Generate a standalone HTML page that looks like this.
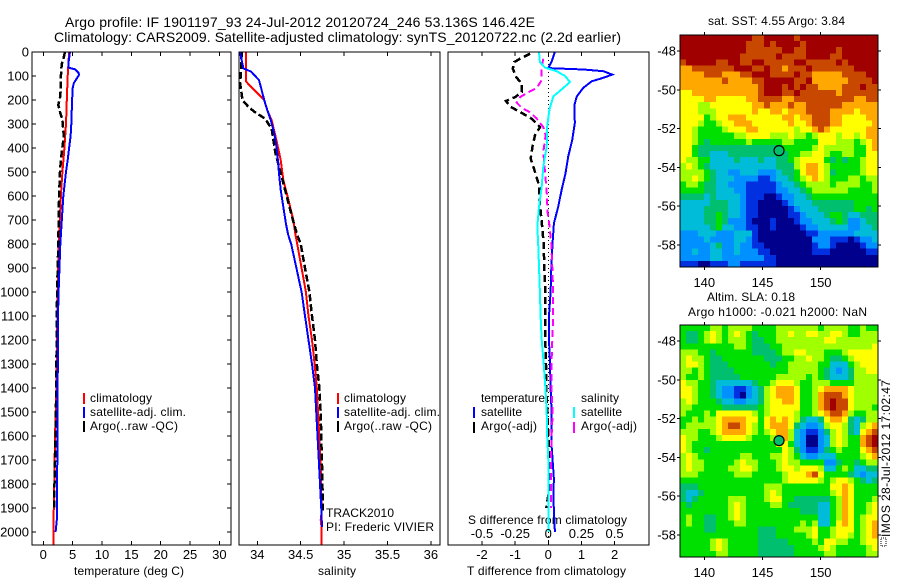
<!DOCTYPE html>
<html>
<head>
<meta charset="utf-8">
<title>Argo profile</title>
<style>
html,body{margin:0;padding:0;background:#fff;width:900px;height:580px;overflow:hidden}
svg{display:block}
text{font-family:"Liberation Sans",Arial,sans-serif;fill:#000}
</style>
</head>
<body>
<svg id="chart" xmlns="http://www.w3.org/2000/svg" width="900" height="580" viewBox="0 0 900 580">
<text x="65" y="27" font-size="14" textLength="470">Argo profile: IF 1901197_93 24-Jul-2012 20120724_246 53.136S 146.42E</text>
<text x="54" y="42" font-size="14" textLength="567">Climatology: CARS2009. Satellite-adjusted climatology: synTS_20120722.nc (2.2d earlier)</text>
<text x="74" y="575" font-size="12" textLength="110">temperature (deg C)</text>
<text x="318" y="575" font-size="12" textLength="38">salinity</text>
<text x="467" y="575" font-size="12" textLength="159">T difference from climatology</text>
<text x="468" y="524" font-size="12" textLength="159">S difference from climatology</text>
<g>
<rect x="83" y="393" width="2" height="11" fill="#ff0000"/>
<text x="90" y="402" font-size="12" textLength="62">climatology</text>
<rect x="83" y="407" width="2" height="11" fill="#0000ff"/>
<text x="90" y="416" font-size="12" textLength="96">satellite-adj. clim.</text>
<rect x="83" y="421" width="2" height="11" fill="#000"/>
<text x="90" y="430" font-size="12" textLength="88">Argo(..raw -QC)</text>
</g>
<g>
<rect x="337" y="393" width="2" height="11" fill="#ff0000"/>
<text x="344" y="402" font-size="12" textLength="62">climatology</text>
<rect x="337" y="407" width="2" height="11" fill="#0000ff"/>
<text x="344" y="416" font-size="12" textLength="96">satellite-adj. clim.</text>
<rect x="337" y="421" width="2" height="11" fill="#000"/>
<text x="344" y="430" font-size="12" textLength="88">Argo(..raw -QC)</text>
</g>
<text x="326" y="517" font-size="12" textLength="68">TRACK2010</text>
<text x="326" y="531" font-size="12" textLength="108">PI: Frederic VIVIER</text>
<g>
<text x="481" y="402" font-size="12" textLength="64">temperature</text>
<text x="581" y="402" font-size="12" textLength="38">salinity</text>
<rect x="473" y="407" width="2" height="11" fill="#0000ff"/>
<text x="481" y="416" font-size="12" textLength="41">satellite</text>
<rect x="473" y="422" width="2" height="11" fill="#000"/>
<text x="481" y="430" font-size="12" textLength="56">Argo(-adj)</text>
<rect x="573" y="407" width="2" height="11" fill="#00ffff"/>
<text x="581" y="416" font-size="12" textLength="41">satellite</text>
<rect x="573" y="422" width="2" height="11" fill="#ff00ff"/>
<text x="581" y="430" font-size="12" textLength="56">Argo(-adj)</text>
</g>
<text x="708" y="25" font-size="12" textLength="137">sat. SST: 4.55 Argo: 3.84</text>
<text x="707" y="301" font-size="12" textLength="88">Altim. SLA: 0.18</text>
<text x="688" y="316" font-size="12" textLength="179">Argo h1000: -0.021 h2000: NaN</text>
<rect x="881" y="538" width="5" height="8" fill="none" stroke="#000" stroke-width="1" stroke-dasharray="1 1" shape-rendering="crispEdges"/>
<text transform="translate(890,537) rotate(-90)" font-size="12" textLength="157">IMOS 28-Jul-2012 17:02:47</text>
</svg>
<script>
/* ---------- temperature panel ---------- */
const tempClimDepth=[0,100,200,300,400,500,600,800,1000,1200,1400,1600,1800,2000,2054];
const tempClimValues=[4.4,4.15,4.0,3.87,3.6,3.25,3.0,2.6,2.45,2.35,2.25,2.0,1.87,1.7,1.7];
const tempSatDepth=[0,50,65,72,85,95,110,130,150,200,300,350,400,450,500,600,800,1000,1100,1400,1650,1950,2000];
const tempSatValues=[4.55,4.26,4.26,5.4,5.96,6.1,5.7,5.2,5.0,4.9,4.77,4.65,4.4,4.15,3.87,3.4,2.9,2.6,2.5,2.45,2.4,2.3,2.1];
const tempArgoDepth=[0,30,50,100,150,190,220,250,280,350,400,450,500,600,800,1000,1400,1600,1800,1900];
const tempArgoValues=[3.7,3.4,3.13,3.0,3.0,2.85,2.55,2.85,3.24,3.5,3.24,3.0,2.85,2.7,2.55,2.35,2.2,2.1,1.9,1.85];
/* ---------- salinity panel ---------- */
const salClimDepth=[0,122,139,167,201,243,285,367,450,533,617,700,762,800,900,1000,1100,1200,1300,1400,1506,1645,1783,1922,1950,1980,2054];
const salClimValues=[33.87,33.87,33.91,33.99,34.08,34.115,34.166,34.22,34.27,34.3,34.36,34.415,34.44,34.46,34.51,34.56,34.59,34.63,34.66,34.685,34.7,34.72,34.735,34.74,34.73,34.74,34.74];
const salSatDepth=[0,68,82,117,158,200,242,283,325,367,422,506,575,645,714,762,800,900,1000,1100,1200,1300,1400,1506,1645,1783,1922,1980];
const salSatValues=[33.8,33.84,33.93,34.02,34.05,34.08,34.115,34.154,34.185,34.21,34.23,34.25,34.27,34.3,34.33,34.356,34.39,34.45,34.51,34.55,34.59,34.63,34.665,34.68,34.7,34.72,34.74,34.745];
const salArgoDepth=[0,100,125,150,201,229,250,278,320,367,422,478,533,617,700,762,800,900,1000,1100,1200,1300,1400,1506,1645,1783,1922];
const salArgoValues=[33.82,33.81,33.8,33.81,33.83,33.9,33.97,34.09,34.166,34.185,34.21,34.25,34.29,34.35,34.41,34.46,34.5,34.55,34.6,34.63,34.665,34.685,34.715,34.73,34.74,34.75,34.755];
/* ---------- difference panel ---------- */
const dTSatDepth=[0,40,67,73,80,94,108,122,150,185,219,297,367,436,506,575,645,714,800,900,1000,1100,1200,1300,1400,1500,1640,1700,1780,1850,2000];
const dTSatValues=[0.2,0.1,0,1.06,1.66,1.93,1.65,1.31,1.05,0.86,0.79,0.8,0.72,0.6,0.52,0.4,0.3,0.17,0.127,0.09,0.07,0.02,0.02,0.05,0.07,0.1,0.1,0.13,0.17,0.15,0.2];
const dTArgoDepth=[7,28,42,69,104,132,167,188,204,229,250,278,313,347,389,444,500,556,639,708,800,900,1000,1200,1300,1400,1600,1700,1800,1900];
const dTArgoValues=[-0.55,-0.85,-1.03,-1.07,-0.97,-0.8,-0.8,-1,-1.28,-1.13,-0.85,-0.5,-0.25,-0.4,-0.47,-0.53,-0.4,-0.28,-0.25,-0.2,-0.14,-0.12,-0.09,-0.09,-0.07,-0.06,0,0.05,0.05,-0.06];
const dSSatDepth=[0,42,65,80,100,125,150,185,240,310,394,478,561,645,728,800,1000,1100,1200,1300,1400,1500,1600,1700,1800,2000];
const dSSatValues=[-0.07,-0.063,-0.025,0.063,0.126,0.164,0.113,0.038,0.008,-0.008,-0.012,-0.038,-0.05,-0.07,-0.083,-0.076,-0.063,-0.058,-0.05,-0.035,-0.022,-0.012,-0.008,0,0,0];
const dSArgoDepth=[28,62,117,150,167,188,211,233,253,278,313,347,417,500,583,667,722,800,900,1000,1100,1200,1300,1400,1500,1600,1700,1800,1900];
const dSArgoValues=[-0.038,-0.05,-0.05,-0.087,-0.15,-0.213,-0.238,-0.2,-0.133,-0.087,-0.038,-0.02,-0.038,-0.025,-0.012,-0.005,0.008,0.023,0.03,0.037,0.037,0.03,0.024,0.023,0.033,0.025,0.02,0.02,0.02];
/* ---------- tick labels ---------- */
const depthTicks=[0,100,200,300,400,500,600,700,800,900,1000,1100,1200,1300,1400,1500,1600,1700,1800,1900,2000];
const tempTicks=[0,5,10,15,20,25,30];
const salTicks=[34,34.5,35,35.5,36];
const dTTicks=[-2,-1,0,1,2];
const dSTicks=[-0.5,-0.25,0,0.25,0.5];
const lonTicks=[140,145,150];
const latTicks=[-48,-50,-52,-54,-56,-58];
const argoLon=146.42;
const argoLat=-53.136;
/* ---------- SST map colour levels (0 coldest .. 10 warmest) ---------- */
const sstLevels=[
[10,10,10,10,10,10,10,10,10,10,10,10,9,9,10,10,10,10,10,9,10,10,10,10,10,10,10,10,10,10,10,10,10],
[10,10,10,10,10,10,10,10,10,10,10,9,9,9,10,9,10,10,10,10,9,10,10,10,10,10,10,10,10,10,10,10,10],
[10,10,10,10,10,10,10,10,10,10,10,9,9,9,9,9,9,10,10,9,9,10,10,10,10,10,9,10,10,10,10,10,10],
[10,10,10,10,10,10,10,10,10,10,9,9,9,9,9,9,10,9,9,9,9,10,10,10,10,9,9,10,10,10,10,10,10],
[9,10,10,10,10,10,9,9,10,10,9,9,10,10,9,9,9,9,9,10,10,9,9,9,9,9,10,9,10,10,10,10,10],
[8,8,9,9,9,9,9,9,9,10,10,10,9,9,10,9,9,8,9,9,9,10,9,9,9,9,9,9,9,10,10,10,10],
[8,8,8,8,9,9,9,8,8,8,9,9,10,10,10,9,9,9,9,10,9,9,8,8,8,8,8,9,9,9,9,10,10],
[8,8,8,8,8,8,8,9,8,8,8,8,9,9,10,10,10,10,10,9,9,10,8,8,8,8,8,8,9,9,9,9,10],
[8,8,8,8,8,8,8,8,8,8,8,8,8,9,10,10,10,9,10,9,10,9,9,8,8,8,8,9,9,9,10,9,9],
[7,7,8,8,8,8,8,8,8,8,8,8,8,9,10,10,10,9,9,10,9,9,9,9,9,9,8,9,9,9,9,9,9],
[7,7,7,7,8,8,7,7,7,7,7,8,8,9,9,9,9,8,8,9,9,9,9,9,9,9,9,9,9,8,8,9,9],
[7,7,7,6,6,7,7,7,7,7,7,7,8,8,9,8,8,8,9,8,8,9,9,9,9,9,9,8,8,8,8,8,8],
[7,7,7,6,6,6,7,7,7,7,7,7,8,7,7,8,8,7,8,8,8,9,9,9,9,8,8,8,8,7,8,8,8],
[7,7,7,7,5,6,7,7,8,8,8,7,7,7,7,7,7,8,8,7,8,8,9,9,9,8,8,7,7,7,7,8,8],
[7,7,7,6,5,5,6,7,7,8,8,8,7,7,7,7,7,7,8,7,7,8,9,9,9,8,8,7,7,7,7,7,8],
[7,7,6,5,5,5,5,6,7,7,7,8,8,7,7,7,7,7,7,6,7,7,8,9,8,7,7,7,7,7,7,8,8],
[7,7,6,5,5,5,5,5,5,6,6,7,7,7,7,6,6,6,7,6,6,5,6,7,7,7,6,7,7,6,7,8,8],
[7,7,6,5,4,5,5,5,5,5,5,6,5,5,5,5,5,6,6,5,5,5,5,7,7,7,6,6,6,5,6,7,8],
[7,7,5,4,4,4,4,4,4,4,4,4,4,4,4,4,4,5,5,5,5,5,6,7,6,6,6,6,6,5,5,7,8],
[7,7,5,4,4,3,3,3,4,4,4,4,4,4,4,4,4,4,5,5,6,6,7,7,6,5,5,6,6,5,5,7,7],
[7,6,6,5,5,3,3,3,3,4,3,3,3,4,3,3,4,4,5,6,7,7,7,7,5,4,5,4,5,5,6,7,7],
[6,7,6,5,4,3,3,3,3,3,3,3,3,3,3,3,4,4,4,6,7,8,8,7,6,5,5,5,5,5,6,7,7],
[6,6,6,6,5,4,3,3,2,2,3,3,3,2,2,2,3,4,4,5,7,8,8,7,6,4,5,5,5,5,6,7,7],
[6,6,7,6,5,4,3,3,3,2,2,2,2,1,1,2,3,3,4,5,6,7,8,7,6,5,5,5,6,6,5,6,6],
[5,6,6,5,4,4,3,3,2,2,2,1,1,1,1,1,2,3,3,4,5,6,6,6,6,5,6,6,6,6,5,5,6],
[5,5,5,5,4,4,3,3,3,2,2,1,1,1,1,1,2,2,3,3,4,5,6,6,6,6,6,6,5,5,5,5,6],
[4,4,4,4,3,4,3,3,3,3,2,1,1,1,0,0,1,2,2,3,3,4,5,5,5,5,5,5,5,5,5,5,5],
[3,3,3,3,3,4,4,4,3,3,2,1,1,0,0,0,0,1,2,3,3,3,4,4,4,4,4,4,4,5,5,5,5],
[3,3,3,3,4,4,4,4,3,3,2,1,1,0,0,0,0,0,1,2,3,3,3,4,4,4,4,4,4,5,5,4,5],
[3,3,3,3,4,4,5,4,3,3,2,1,1,0,0,0,0,0,1,1,2,3,3,3,4,5,5,4,3,3,4,4,4],
[3,3,3,3,4,4,5,4,2,2,2,1,0,0,0,1,0,0,0,1,2,2,3,3,3,4,5,4,2,2,3,4,4],
[3,3,3,3,3,4,5,3,3,2,2,1,1,0,0,1,0,0,0,0,1,2,2,3,3,3,3,3,2,2,3,3,4],
[2,2,2,3,3,3,2,2,2,3,3,3,1,0,0,0,0,0,0,0,0,1,1,2,2,2,2,2,2,3,3,3,3],
[2,2,2,2,3,2,2,2,2,3,3,2,1,0,0,0,0,0,0,0,0,0,2,2,2,1,1,1,0,1,2,2,3],
[2,2,2,2,2,3,4,2,2,3,2,2,1,1,0,0,0,0,0,0,0,0,1,2,2,1,0,0,0,0,1,2,2],
[2,2,3,2,2,3,3,2,2,3,2,2,2,1,1,0,0,0,0,0,0,0,1,1,1,0,0,0,0,0,0,1,1],
[2,2,2,2,2,3,3,2,2,2,2,2,2,2,1,1,0,0,0,0,0,0,0,0,0,0,0,0,0,0,0,0,0],
[1,1,1,0,0,1,1,1,2,2,1,1,1,1,1,1,0,0,0,0,0,0,0,0,0,0,0,0,0,0,0,0,0]
];
/* ---------- SLA map colour levels ---------- */
const slaLevels=[
[5,5,5,5,5,6,6,5,6,6,6,6,5,5,5,5,6,6,6,6,6,6,6,5,6,6,6,6,5,5,6,5,5],
[5,4,4,5,6,7,6,5,6,7,6,5,4,5,5,5,6,6,7,6,6,7,7,6,6,7,7,6,5,5,6,6,6],
[5,4,4,5,6,7,6,5,6,6,6,5,4,4,5,5,6,6,6,6,6,6,6,6,7,7,6,6,6,6,6,6,6],
[5,5,5,5,5,5,5,5,5,6,6,5,4,4,4,5,5,6,6,6,6,6,6,6,6,6,6,6,6,6,6,6,7],
[6,6,6,5,5,4,5,5,5,5,5,5,4,4,4,4,5,6,6,7,7,6,6,6,5,5,5,6,7,7,7,7,7],
[6,7,6,6,5,4,4,5,5,5,5,5,5,5,4,4,4,5,5,6,6,7,6,6,5,4,4,5,6,7,7,7,7],
[6,7,7,6,5,4,4,4,5,5,5,5,5,5,5,4,5,5,6,6,6,6,6,5,5,3,3,3,5,6,7,7,7],
[6,6,5,6,5,4,4,4,4,5,5,5,5,5,5,5,5,5,6,6,6,6,6,5,4,3,2,3,4,6,6,7,7],
[6,5,5,6,5,4,4,4,4,4,5,5,5,5,5,5,6,6,6,6,6,5,6,5,4,3,3,3,4,6,6,6,6],
[7,6,6,5,5,4,3,3,3,3,3,3,4,5,5,6,7,7,7,6,5,5,6,6,6,5,5,5,5,6,6,6,6],
[7,7,6,5,5,4,3,2,2,1,1,2,3,4,6,7,8,8,8,7,5,5,6,7,8,8,8,8,7,6,6,6,6],
[7,7,6,5,5,4,3,2,2,1,0,2,3,4,6,7,8,8,8,7,5,5,6,8,9,9,9,8,7,6,6,6,6],
[6,7,6,5,5,5,4,3,3,2,2,3,3,4,6,7,7,8,8,7,5,5,6,8,9,10,9,9,7,6,6,6,6],
[6,6,5,5,5,5,5,4,4,4,4,4,4,5,6,7,7,7,7,7,5,5,6,8,9,10,9,9,7,6,6,6,5],
[6,5,5,5,6,5,7,7,7,7,7,7,6,5,6,7,7,7,7,6,5,5,6,7,8,9,9,8,6,5,5,6,6],
[5,5,6,5,6,6,7,8,8,8,8,7,7,5,7,8,7,8,7,6,4,3,3,4,7,8,8,7,4,3,4,6,6],
[5,6,6,6,6,6,7,8,9,9,8,7,6,5,7,8,8,8,7,4,3,2,2,3,6,7,7,6,4,3,6,7,8],
[6,6,6,5,5,6,7,8,8,8,8,7,6,5,6,7,8,8,6,3,2,1,1,2,4,6,7,6,4,3,7,8,9],
[7,6,6,5,5,5,6,7,7,7,7,6,5,5,5,6,7,8,6,3,2,0,0,2,3,6,7,6,5,5,8,9,10],
[7,6,5,5,5,5,5,5,5,5,5,5,5,5,5,5,7,7,5,3,2,0,0,2,3,6,7,6,5,5,8,9,10],
[7,6,5,5,4,5,5,5,5,5,5,5,5,5,5,5,5,7,6,4,2,1,1,2,4,5,6,5,5,5,7,8,9],
[6,7,6,5,5,5,5,5,5,5,6,6,5,5,5,6,6,7,6,5,3,2,2,3,3,3,5,5,5,5,6,7,8],
[6,7,6,6,5,5,5,5,5,6,7,6,6,5,5,5,6,7,6,6,5,5,5,5,2,2,4,5,5,4,5,6,6],
[6,7,6,6,5,5,5,5,6,6,7,7,6,5,5,5,6,7,7,6,7,7,7,6,3,3,5,6,5,3,3,4,4],
[6,6,6,5,5,5,5,5,5,6,6,6,5,5,5,5,5,6,7,7,7,8,9,7,5,5,5,5,4,3,2,3,3],
[5,5,5,5,5,5,5,5,5,5,5,5,5,5,5,5,5,6,7,7,7,7,7,6,5,6,7,7,6,5,4,3,4],
[4,4,4,5,5,5,5,5,5,5,5,5,5,5,6,6,6,5,5,5,5,5,5,5,5,7,7,8,7,5,5,5,5],
[4,3,3,4,5,5,5,5,5,5,5,5,5,5,6,7,6,5,5,5,5,5,5,5,5,6,7,8,7,5,5,5,5],
[4,3,4,5,5,5,5,5,6,6,6,5,5,5,6,7,7,5,5,4,4,4,4,4,4,5,6,8,7,5,5,5,6],
[5,4,5,5,5,5,5,5,6,7,6,5,5,5,5,6,6,5,4,4,4,4,4,3,3,5,6,8,7,5,5,6,7],
[5,5,5,5,5,5,5,5,6,7,6,5,5,5,5,5,5,5,5,5,4,4,4,3,3,5,6,8,7,5,5,6,7],
[5,6,5,5,4,4,5,5,6,7,6,5,5,5,5,5,5,5,5,5,5,5,5,3,3,5,6,8,7,5,6,7,7],
[5,6,5,5,4,4,5,5,5,6,6,5,5,5,5,5,5,5,5,5,6,5,6,3,3,5,7,8,7,5,6,7,8],
[5,5,5,5,4,4,5,5,5,5,5,5,5,4,4,4,5,5,5,6,6,6,7,5,5,6,7,7,7,5,6,7,8],
[5,5,5,5,5,5,5,5,5,5,5,5,5,4,4,4,5,5,5,5,5,6,7,5,5,6,7,7,6,5,6,7,8],
[5,5,5,5,5,6,7,6,5,5,5,5,5,4,4,4,4,4,5,5,5,5,6,5,7,7,6,6,5,5,6,7,7],
[5,5,5,5,5,6,7,6,5,5,5,5,5,4,4,4,4,4,4,5,5,5,5,6,7,6,5,5,5,5,5,6,7],
[5,5,5,5,5,5,6,6,5,5,5,5,5,4,4,4,4,4,4,5,5,5,5,5,6,6,5,5,5,5,5,6,6]
];

const NS='http://www.w3.org/2000/svg';
const svg=document.getElementById('chart');
function mk(tag,attrs,parent){
  const el=document.createElementNS(NS,tag);
  for(const k in attrs) el.setAttribute(k,attrs[k]);
  (parent||svg).appendChild(el);
  return el;
}
/* axis functions */
const depthY=d=>52+0.24*d;
const tempX=t=>43.3+5.87*t;
const salX=s=>257.3+86.8*(s-34);
const dTX=t=>548.3+33.15*t;
const dSX=s=>548.3+132.6*s;
const lonX=l=>704.3+11.64*(l-140);
const latY=(l,y48)=>y48+19.4*(-48-l);

function fmtS(v){return String(v);}

function drawLine(name,depths,values,xf,color,dash,width){
  const pts=depths.map((d,i)=>xf(values[i]).toFixed(1)+','+depthY(d).toFixed(1)).join(' ');
  const p=mk('polyline',{points:pts,fill:'none',stroke:color,'stroke-width':width||2,'stroke-linejoin':'miter'});
  
  
  if(dash) p.setAttribute('stroke-dasharray',dash);
  p.setAttribute('shape-rendering','crispEdges');
  return p;
}
function frame(name,x0,y0,x1,y1){
  const r=mk('rect',{x:x0,y:y0,width:x1-x0,height:y1-y0,fill:'none',stroke:'#000','stroke-width':1.4});
  
  
  r.setAttribute('shape-rendering','crispEdges');
}
function tick(x1,y1,x2,y2){
  const t=mk('line',{x1:x1,y1:y1,x2:x2,y2:y2,stroke:'#000','stroke-width':1});
  
  
  t.setAttribute('shape-rendering','crispEdges');
}
function label(str,x,y,anchor,size){
  const t=mk('text',{x:x,y:y,'text-anchor':anchor,'font-size':size||13});
  t.textContent=str;
  
  
}

const TOP=52,BOT=545;
/* panel 1 */
drawLine('temperature-climatology-line',tempClimDepth,tempClimValues,tempX,'#ff0000');
drawLine('temperature-argo-line',tempArgoDepth,tempArgoValues,tempX,'#000','7 3',2.5);
drawLine('temperature-satellite-line',tempSatDepth,tempSatValues,tempX,'#0000ff');
frame('temperature-axes-frame',32,TOP,231,BOT);
depthTicks.forEach(d=>{
  tick(32,depthY(d),36,depthY(d));
  tick(227,depthY(d),231,depthY(d));
  label(String(d),29,depthY(d)+4.5,'end');
});
tempTicks.forEach(v=>{
  tick(tempX(v),TOP,tempX(v),TOP+4);
  tick(tempX(v),BOT-4,tempX(v),BOT);
  label(String(v),tempX(v),559,'middle');
});
/* panel 2 */
drawLine('salinity-climatology-line',salClimDepth,salClimValues,salX,'#ff0000');
drawLine('salinity-argo-line',salArgoDepth,salArgoValues,salX,'#000','7 3',2.5);
drawLine('salinity-satellite-line',salSatDepth,salSatValues,salX,'#0000ff');
frame('salinity-axes-frame',239,TOP,440,BOT);
salTicks.forEach(v=>{
  tick(salX(v),TOP,salX(v),TOP+4);
  tick(salX(v),BOT-4,salX(v),BOT);
  label(fmtS(v),salX(v),559,'middle');
});
/* panel 3 */
const zero=mk('line',{x1:dTX(0),y1:TOP,x2:dTX(0),y2:BOT,stroke:'#000','stroke-width':1,'stroke-dasharray':'1 3'});


zero.setAttribute('shape-rendering','crispEdges');
drawLine('dt-argo-line',dTArgoDepth,dTArgoValues,dTX,'#000','7 4',2.5);
drawLine('dt-satellite-line',dTSatDepth,dTSatValues,dTX,'#0000ff');
drawLine('ds-argo-line',dSArgoDepth,dSArgoValues,dSX,'#ff00ff','7 4');
drawLine('ds-satellite-line',dSSatDepth,dSSatValues,dSX,'#00ffff');
frame('difference-axes-frame',448,TOP,649,BOT);
dTTicks.forEach(v=>{
  tick(dTX(v),TOP,dTX(v),TOP+4);
  tick(dTX(v),BOT-4,dTX(v),BOT);
  label(String(v),dTX(v),559,'middle');
});
dSTicks.forEach(v=>{
  label(String(v),dSX(v),538,'middle');
});

/* maps */
const palette=['#00008c','#0030e0','#0090ff','#00bcd8','#00c070','#00e000','#a0ff00','#ffff00','#ffa800','#c84800','#a00000'];
function drawMap(name,levels,x0,y0,x1,y1,y48,dotColor){
  const h=(y1-y0)/levels.length;
  const g=mk('g',{'shape-rendering':'crispEdges'});
  
  
  levels.forEach((row,r)=>{
    const w=(x1-x0)/row.length;
    row.forEach((v,c)=>{
      const cell=mk('rect',{x:(x0+c*w).toFixed(2),y:(y0+r*h).toFixed(2),width:(w+0.5).toFixed(2),height:(h+0.5).toFixed(2),fill:palette[Math.max(0,Math.min(10,Math.round(v)))]},g);
      
      
    });
  });
  frame(name+'-frame',x0,y0,x1,y1);
  lonTicks.forEach(l=>{
    tick(lonX(l),y0-3,lonX(l),y0);
    tick(lonX(l),y1,lonX(l),y1+3);
    label(String(l),lonX(l),y1+20,'middle');
  });
  latTicks.forEach(l=>{
    tick(x0-3,latY(l,y48),x0,latY(l,y48));
    tick(x1,latY(l,y48),x1+3,latY(l,y48));
    label(String(l),x0-4,latY(l,y48)+4.5,'end');
  });
  const dot=mk('circle',{cx:lonX(argoLon),cy:latY(argoLat,y48),r:5,fill:dotColor,stroke:'#000','stroke-width':1.2});
  
  
}
drawMap('sst-map',sstLevels,680,35,878,267,51,'#00c070');
drawMap('sla-map',slaLevels,680,325,878,557,341,'#00c070');
</script>
</body>
</html>
